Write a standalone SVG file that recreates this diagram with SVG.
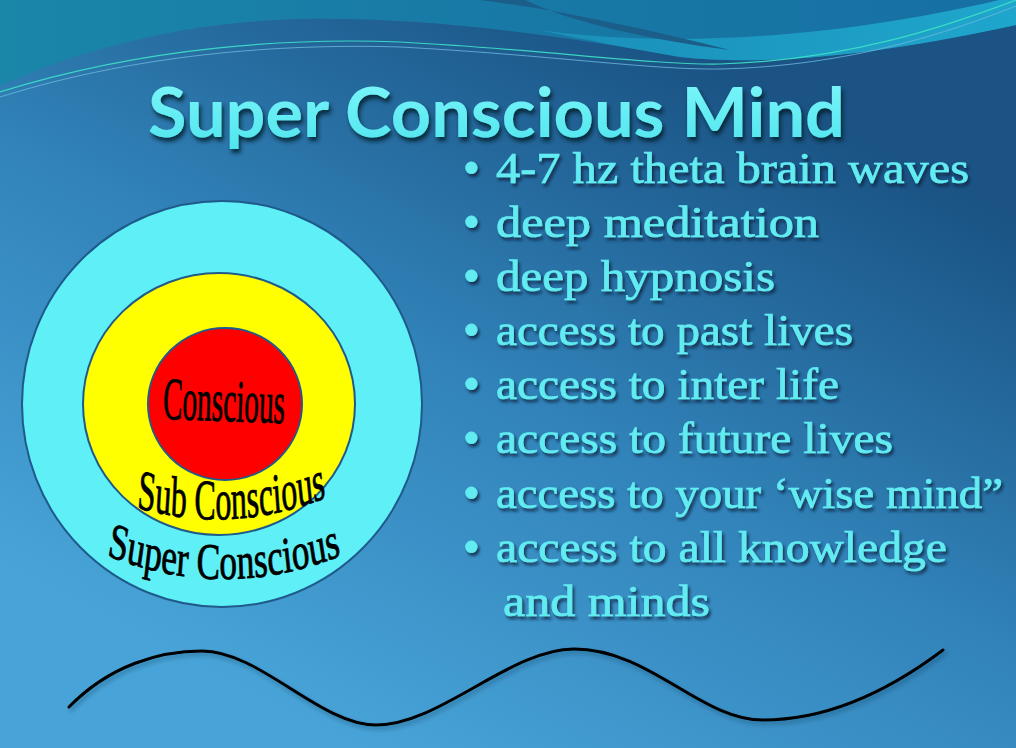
<svg xmlns="http://www.w3.org/2000/svg" xmlns:xlink="http://www.w3.org/1999/xlink" width="1016" height="748" viewBox="0 0 1016 748">
<style>
.title{font-family:Lato,"Open Sans","Liberation Sans",sans-serif;font-size:68px;font-weight:bold;fill:url(#titleFill)}
.bul{font-family:"Liberation Serif",serif;font-size:44px;fill:#62ecf2;stroke:#62ecf2;stroke-width:0.7}
.dot{font-family:"Liberation Serif",serif;font-size:48px;fill:#62ecf2;stroke:#62ecf2;stroke-width:0.8}
.lbl{font-family:"Liberation Serif",serif;fill:#000;stroke:#000;stroke-width:0.9}
.ring{stroke:#1f5a8a;stroke-width:2}
</style>
<defs>
<linearGradient id="bg" gradientUnits="userSpaceOnUse" x1="700" y1="60" x2="350" y2="748">
<stop offset="0" stop-color="#1a5384"/>
<stop offset="0.5" stop-color="#3183b9"/>
<stop offset="1" stop-color="#48a4d8"/>
</linearGradient>
<linearGradient id="topTeal" x1="0" y1="0" x2="1" y2="0">
<stop offset="0" stop-color="#1a86a8"/>
<stop offset="0.5" stop-color="#1879a6"/>
<stop offset="1" stop-color="#1670a2"/>
</linearGradient>
<linearGradient id="band" x1="0" y1="0" x2="1" y2="0">
<stop offset="0" stop-color="#1a8fb8"/>
<stop offset="1" stop-color="#1fa6cc"/>
</linearGradient>
<linearGradient id="titleFill" x1="0" y1="0" x2="0" y2="1">
<stop offset="0" stop-color="#80f8fb"/>
<stop offset="1" stop-color="#4fe4ee"/>
</linearGradient>
<filter id="tshadow" x="-10%" y="-30%" width="120%" height="160%">
<feDropShadow dx="2" dy="4" stdDeviation="2" flood-color="#061c2c" flood-opacity="0.85"/>
</filter>
<filter id="bshadow" x="-10%" y="-30%" width="120%" height="160%">
<feDropShadow dx="2" dy="3" stdDeviation="1.5" flood-color="#08243a" flood-opacity="0.8"/>
</filter>
<filter id="wshadow" x="-5%" y="-30%" width="110%" height="160%">
<feDropShadow dx="2" dy="3" stdDeviation="2" flood-color="#0a2a40" flood-opacity="0.35"/>
</filter>
<path id="p-sub" d="M 65,508 Q 231,535 399,498"/>
<path id="p-super" d="M 56,556 Q 224,602 392,556"/>
</defs>

<g id="background">
<rect x="0" y="0" width="1016" height="748" fill="url(#bg)"/>
<path d="M0,0 H1016 V25 C900,50 780,68 680,57 C560,35 420,16 300,19 C180,22 80,50 0,86 Z" fill="url(#topTeal)"/>
<path d="M540,30 C650,46 820,44 1016,-4 L1016,25 C900,50 780,68 680,57 C630,48 585,40 540,30 Z" fill="url(#band)"/>
<path d="M480,0 C560,10 650,30 730,50 C650,40 570,22 525,0 Z" fill="#1b5e8a"/>
<path d="M0,92 C150,45 300,38 400,42 C550,50 650,65 720,64 C850,60 950,25 1016,0" fill="none" stroke="#3fe0c8" stroke-width="1.2" opacity="0.9"/>
<path d="M0,97 C150,50 300,44 400,47 C550,55 650,70 720,69 C850,66 950,32 1016,6" fill="none" stroke="#6fb8e0" stroke-width="1" opacity="0.8"/>
</g>

<g id="title" filter="url(#tshadow)">
<text class="title" x="148" y="137" textLength="697" lengthAdjust="spacingAndGlyphs">Super Conscious Mind</text>
</g>

<g id="node-super-conscious">
<ellipse class="ring" cx="222" cy="404" rx="200" ry="203" fill="#5ff0f7"/>
</g>
<g id="node-sub-conscious">
<ellipse class="ring" cx="219" cy="404" rx="136" ry="131" fill="#ffff00"/>
</g>
<g id="node-conscious">
<ellipse class="ring" cx="225" cy="404" rx="77" ry="76" fill="#ff0000"/>
<text class="lbl" x="163" y="421" font-size="60" textLength="122" lengthAdjust="spacingAndGlyphs" transform="rotate(2 224 405)">Conscious</text>
</g>
<g id="label-sub-conscious" transform="matrix(0.56,0,0,1,101.64,0)">
<text class="lbl" font-size="57" text-anchor="middle"><textPath href="#p-sub" xlink:href="#p-sub" startOffset="50%">Sub Conscious</textPath></text>
</g>
<g id="label-super-conscious" transform="matrix(0.69,0,0,1,69.44,0)">
<text class="lbl" font-size="51" text-anchor="middle"><textPath href="#p-super" xlink:href="#p-super" startOffset="50%">Super Conscious</textPath></text>
</g>

<g id="bullets" filter="url(#bshadow)">
<text class="dot" x="463" y="184">•</text>
<text class="bul" x="496" y="183" textLength="473" lengthAdjust="spacingAndGlyphs">4-7 hz theta brain waves</text>
<text class="dot" x="463" y="238">•</text>
<text class="bul" x="496" y="237" textLength="323" lengthAdjust="spacingAndGlyphs">deep meditation</text>
<text class="dot" x="463" y="292">•</text>
<text class="bul" x="496" y="291" textLength="279" lengthAdjust="spacingAndGlyphs">deep hypnosis</text>
<text class="dot" x="463" y="346">•</text>
<text class="bul" x="496" y="345" textLength="357" lengthAdjust="spacingAndGlyphs">access to past lives</text>
<text class="dot" x="463" y="400">•</text>
<text class="bul" x="496" y="399" textLength="343" lengthAdjust="spacingAndGlyphs">access to inter life</text>
<text class="dot" x="463" y="454">•</text>
<text class="bul" x="496" y="453" textLength="397" lengthAdjust="spacingAndGlyphs">access to future lives</text>
<text class="dot" x="463" y="509">•</text>
<text class="bul" x="496" y="508" textLength="507" lengthAdjust="spacingAndGlyphs">access to your ‘wise mind”</text>
<text class="dot" x="463" y="563">•</text>
<text class="bul" x="496" y="562" textLength="451" lengthAdjust="spacingAndGlyphs">access to all knowledge</text>
<text class="bul" x="503" y="616" textLength="207" lengthAdjust="spacingAndGlyphs">and minds</text>
</g>

<g id="wave" filter="url(#wshadow)">
<path d="M69,707 C110,665 160,651 202,651 C260,651 320,725 376,725 C440,725 510,649 574,649 C650,649 700,720 763,720 C830,720 890,690 943,650" fill="none" stroke="#000" stroke-width="3" stroke-linecap="round"/>
</g>
</svg>
